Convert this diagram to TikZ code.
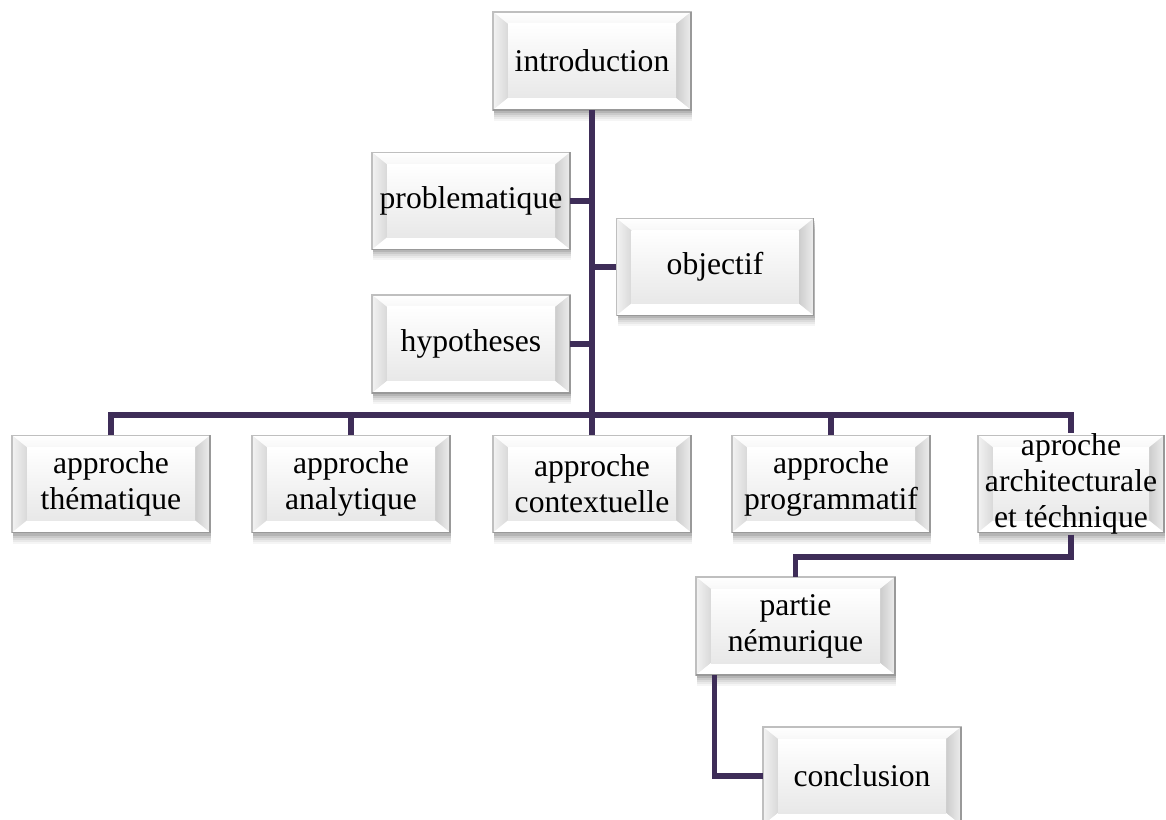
\documentclass[tikz,border=0pt]{standalone}
\usepackage{fontspec}
\setmainfont{Liberation Serif}
\definecolor{linec}{RGB}{62,45,88}
\tikzset{
  lbl/.style={inner sep=0pt, align=center, font=\fontsize{18}{20.5}\selectfont, text=black},
  conn/.style={draw=linec, line width=2.9pt},
}
\newcommand\bevbox[6]{%
  \pgfmathsetmacro\hw{#4/2}%
  \pgfmathsetmacro\hh{#5/2}%
  \pgfmathsetmacro\ix{\hw-15}%
  \pgfmathsetmacro\iy{\hh-12}%
  \begin{scope}[shift={(#2,#3)}]
    \foreach \s/\o in {11/0.04,9/0.05,7/0.06,5/0.08,3/0.1}{%
      \fill[black,opacity=\o] (-\hw+1,-\hh+\s) rectangle (\hw+1,\hh+\s);}
    \fill[gray!12] (-\hw,-\hh) rectangle (\hw,\hh);
    \shade[top color=white, bottom color=gray!6] (-\hw,-\hh) -- (\hw,-\hh) -- (\ix,-\iy) -- (-\ix,-\iy) -- cycle;
    \shade[left color=gray!10, right color=gray!30] (-\hw,-\hh) -- (-\ix,-\iy) -- (-\ix,\iy) -- (-\hw,\hh) -- cycle;
    \shade[left color=gray!40, right color=gray!14] (\hw,-\hh) -- (\ix,-\iy) -- (\ix,\iy) -- (\hw,\hh) -- cycle;
    \fill[white] (-\hw,\hh) -- (\hw,\hh) -- (\ix,\iy) -- (-\ix,\iy) -- cycle;
    \shade[top color=white, bottom color=gray!18] (-\ix,-\iy) rectangle (\ix,\iy);
    \draw[gray!50, line width=0.6pt] (-\hw,-\hh) rectangle (\hw,\hh);
    \draw[gray!80, line width=1pt] (\hw,-\hh) -- (\hw,\hh) -- (-\hw,\hh);
  \end{scope}
  \node[lbl, minimum width=#4*0.02cm, minimum height=#5*0.02cm] (#1) at (#2,#3) {#6};
}
\begin{document}
\begin{tikzpicture}[x=0.02cm, y=-0.02cm]
  \useasboundingbox (0,0) rectangle (1166,820);
  \clip (0,0) rectangle (1166,820);

  \bevbox{intro}{592}{61}{198}{98}{introduction}
  \bevbox{prob}{471}{201}{198}{97}{problematique}
  \bevbox{obj}{715}{267}{197}{97}{objectif}
  \bevbox{hyp}{471}{344}{198}{98}{hypotheses}

  \bevbox{them}{111}{484}{198}{97}{approche\\thématique}
  \bevbox{anal}{351}{484}{198}{97}{approche\\analytique}
  \bevbox{context}{592}{484}{198}{97}{approche\\contextuelle}
  \bevbox{prog}{831}{484}{198}{97}{approche\\programmatif}
  \bevbox{arch}{1071}{484}{186}{97}{aproche\\architecturale\\et téchnique}

  \bevbox{partie}{795.5}{626}{199}{98}{partie\\némurique}
  \bevbox{concl}{862}{776}{198}{98}{conclusion}

  \coordinate (bar) at (592,415);
  \coordinate (k1) at (1071,557);

  \draw[conn] (intro.south) -- (context.north);
  \draw[conn] (them.north) |- (bar) -| (arch.north);
  \draw[conn] (anal.north) -- (anal.north |- bar);
  \draw[conn] (prog.north) -- (prog.north |- bar);
  \draw[conn] (prob.east) -- (prob.east -| bar);
  \draw[conn] (obj.west) -- (obj.west -| bar);
  \draw[conn] (hyp.east) -- (hyp.east -| bar);
  \draw[conn] (arch.south) -- (k1) -| (partie.north);
  \draw[conn] ([xshift=0.38cm]partie.south west) |- (concl.west);
\end{tikzpicture}
\end{document}
